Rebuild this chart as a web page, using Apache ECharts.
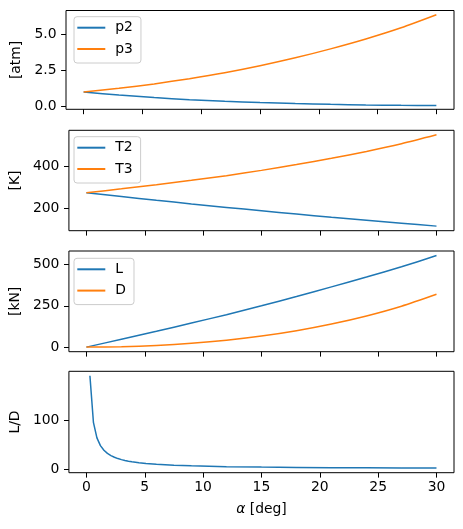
<!DOCTYPE html>
<html><head><meta charset="utf-8">
<script src="https://cdn.jsdelivr.net/npm/echarts@6/dist/echarts.min.js"></script>
<style>html,body{margin:0;padding:0;background:#fff}#c{width:463px;height:529px}</style>
</head><body><div id="c"></div>
<script>
// angle of attack [deg]
const alpha = [0, 3, 6, 9, 12, 15, 18, 21, 24, 27, 30];
// pressures [atm]
const p2 = [1.0, 0.79, 0.61, 0.47, 0.36, 0.27, 0.20, 0.145, 0.105, 0.075, 0.06];
const p3 = [1.0, 1.256, 1.561, 1.924, 2.336, 2.821, 3.37, 3.99, 4.675, 5.45, 6.353];
// temperatures [K]
const T2 = [273, 254.9, 237.2, 220.0, 203.5, 187.3, 171.6, 156.5, 142.0, 128.1, 114.7];
const T3 = [273, 291.5, 310.9, 331.8, 354.0, 379.0, 406.4, 436.3, 469.0, 505.5, 547.7];
// forces [kN]
const L = [0, 47.5, 95.7, 145.5, 196.1, 249.9, 305.8, 364.0, 423.4, 485.6, 553.3];
const D = [0, 2.5, 10.1, 23.1, 41.7, 67.0, 99.4, 139.7, 188.5, 247.4, 319.4];
// lift to drag ratio
const ldAlpha = [0.3, 0.6, 0.9, 1.2, 1.5, 1.8, 2.1, 2.4, 2.7, 3, 3.3, 3.6, 3.9, 4.5, 5.1, 6, 7.5, 9, 12, 15, 18, 21, 24, 27, 30];
const LD = [191.0, 95.5, 63.7, 47.7, 38.2, 31.8, 27.3, 23.9, 21.2, 19.1, 17.35, 15.9, 14.67, 12.7, 11.2, 9.5, 7.6, 6.3, 4.7, 3.73, 3.08, 2.61, 2.25, 1.96, 1.73];
// ticks and labels
const xTicks = [0, 5, 10, 15, 20, 25, 30];
const yTicks = [[0, 2.5, 5], [200, 400], [0, 250, 500], [0, 100]];
const yNames = ['[atm]', '[K]', '[kN]', 'L/D'];
const xName = '{a|α} [deg]';

const BLUE = '#1f77b4', ORANGE = '#ff7f0e';
const FONT = 'DejaVu Sans';
const FS = 13.9;

const gridTops = [10.5, 130.3, 251, 371.3];
const gridHeights = [98.8, 100.4, 100.7, 101.4];
const yRanges = [[-0.2, 6.65], [93, 569], [-27.7, 581], [-7.7, 200]];
const yNameGaps = [37.5, 43, 43, 41];
const yDecimals = [1, 0, 0, 0];
const legendTops = [16.7, 136.7, 258.3];

const pairs = (xs, ys) => xs.map((x, i) => [x, ys[i]]);

const grids = [], xAxes = [], yAxes = [];
for (let i = 0; i < 4; i++) {
  grids.push({
    left: 66, width: 388, top: gridTops[i], height: gridHeights[i],
    show: true, borderColor: '#000', borderWidth: 1, backgroundColor: 'transparent'
  });
  xAxes.push({
    type: 'value', gridIndex: i, min: -1.5, max: 31.5, position: 'bottom',
    axisLine: { show: false, onZero: false },
    axisTick: { show: true, customValues: xTicks, length: 4.9, lineStyle: { color: '#000', width: 1 } },
    axisLabel: {
      show: i === 3, customValues: xTicks, margin: 8, color: '#000',
      fontFamily: FONT, fontSize: FS
    },
    splitLine: { show: false },
    name: i === 3 ? xName : '',
    nameLocation: 'middle', nameGap: 30,
    nameTextStyle: { color: '#000', fontFamily: FONT, fontSize: FS, rich: { a: { fontStyle: 'italic', fontFamily: FONT, fontSize: FS, color: '#000' } } }
  });
  const dec = yDecimals[i];
  yAxes.push({
    type: 'value', gridIndex: i, min: yRanges[i][0], max: yRanges[i][1], position: 'left',
    axisLine: { show: false, onZero: false },
    axisTick: { show: true, customValues: yTicks[i], length: 4.9, lineStyle: { color: '#000', width: 1 } },
    axisLabel: {
      customValues: yTicks[i], margin: 9.5, color: '#000', fontFamily: FONT, fontSize: FS,
      formatter: v => Number(v).toFixed(dec)
    },
    splitLine: { show: false },
    name: yNames[i], nameLocation: 'middle', nameGap: yNameGaps[i],
    nameTextStyle: { color: '#000', fontFamily: FONT, fontSize: FS }
  });
}

const line = (name, idx, data, color, smooth) => ({
  name, type: 'line', xAxisIndex: idx, yAxisIndex: idx, data,
  symbol: 'none', showSymbol: false, smooth, animation: false,
  lineStyle: { color, width: 1.5 }, itemStyle: { color }, z: 3
});

const series = [
  line('p2', 0, pairs(alpha, p2), BLUE, 0.25),
  line('p3', 0, pairs(alpha, p3), ORANGE, 0.25),
  line('T2', 1, pairs(alpha, T2), BLUE, 0.25),
  line('T3', 1, pairs(alpha, T3), ORANGE, 0.25),
  line('L', 2, pairs(alpha, L), BLUE, 0.25),
  line('D', 2, pairs(alpha, D), ORANGE, 0.25),
  line('L/D', 3, pairs(ldAlpha, LD), BLUE, false)
];

const legendNames = [['p2', 'p3'], ['T2', 'T3'], ['L', 'D']];
const legends = legendNames.map((names, i) => ({
  data: names, orient: 'vertical', left: 74, top: legendTops[i],
  icon: 'rect', itemWidth: 28, itemHeight: 2, itemGap: 7.3,
  padding: [4, 8, 7, 3.3],
  backgroundColor: 'rgba(255,255,255,0.8)', borderColor: '#cccccc', borderWidth: 1, borderRadius: 3,
  selectedMode: false,
  textStyle: { color: '#000', fontFamily: FONT, fontSize: FS, lineHeight: 14, padding: [0, 0, 0, 5] }
}));

const chart = echarts.init(document.getElementById('c'), null, { renderer: 'canvas' });
chart.setOption({
  animation: false,
  backgroundColor: '#fff',
  grid: grids, xAxis: xAxes, yAxis: yAxes,
  legend: legends,
  series
});
</script></body></html>
